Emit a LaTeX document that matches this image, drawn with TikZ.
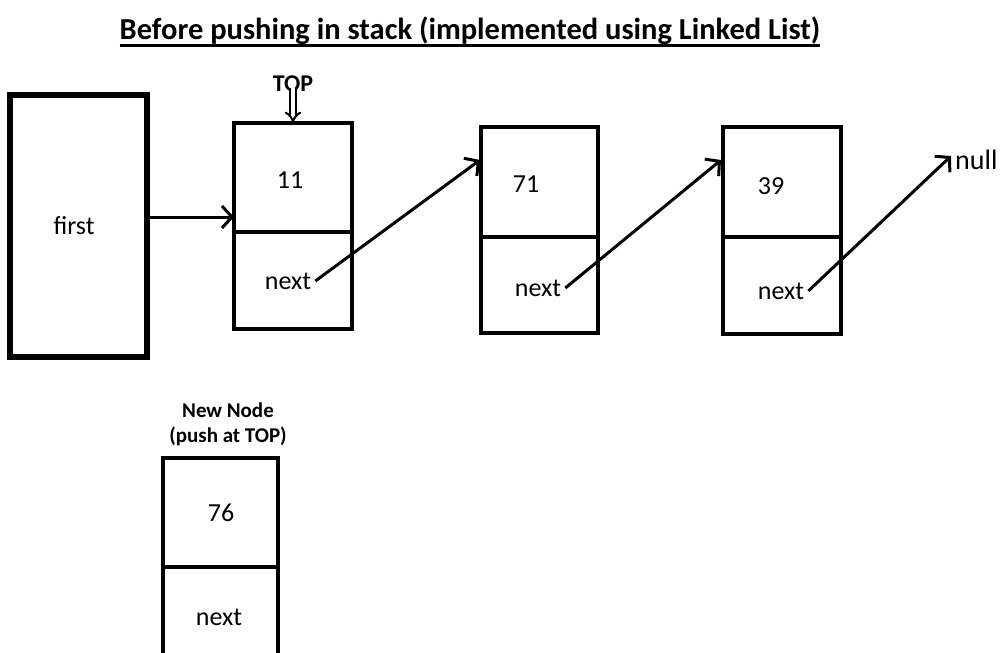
\documentclass[tikz,border=0pt]{standalone}
\usepackage{fontspec}
\setmainfont{Carlito}
\usetikzlibrary{arrows.meta}
\begin{document}
\begin{tikzpicture}[x=1pt,y=-1pt,
  cell/.style={draw, line width=4pt, inner sep=0pt, outer sep=0pt, anchor=north west},
  lbl/.style={font=\fontsize{26}{30}\selectfont, inner sep=1pt},
  boldlbl/.style={font=\bfseries\fontsize{21}{25}\selectfont, inner sep=0pt, align=center},
  arr/.style={line width=3pt, -{Straight Barb[length=10pt,width=22pt,line width=3pt]}}]
\useasboundingbox (0,0) rectangle (1004,653);
% title
\node[font=\bfseries\fontsize{30.5}{34}\selectfont, inner sep=0pt] (title) at (470,31) {Before pushing in stack (implemented using Linked List)};
\draw[line width=2.5pt] ([yshift=-6pt]title.base west) -- ([yshift=-6pt]title.base east);
% first
\node[cell, line width=5.5pt, minimum width=137pt, minimum height=262pt] (first) at (10,95) {};
\node[lbl] (firsttxt) at (74,226) {first};
% node 11
\node[cell, minimum width=118pt, minimum height=109pt] (a1) at (234,123) {};
\node[cell, minimum width=118pt, minimum height=97pt] (b1) at (234,232) {};
\node[lbl] (v1) at (290,180) {11};
\node[lbl] (n1) at (288,281) {next};
% node 71
\node[cell, minimum width=117pt, minimum height=110pt] (a2) at (481,127) {};
\node[cell, minimum width=117pt, minimum height=96pt] (b2) at (481,237) {};
\node[lbl] (v2) at (526,184) {71};
\node[lbl] (n2) at (538,288) {next};
% node 39
\node[cell, minimum width=118pt, minimum height=110pt] (a3) at (723,127) {};
\node[cell, minimum width=118pt, minimum height=97pt] (b3) at (723,237) {};
\node[lbl] (v3) at (771,186) {39};
\node[lbl] (n3) at (781,291) {next};
% null
\node[font=\fontsize{28}{32}\selectfont, inner sep=1pt, anchor=west] (null) at (954,160) {null};
% TOP
\node[font=\bfseries\fontsize{24}{26}\selectfont, inner sep=0pt] (top) at (293,84) {TOP};
\draw[line width=2pt, double distance=3.5pt, -{Implies}] ([yshift=4pt]top.south) -- (top.south |- a1.north);
% new node
\node[boldlbl] (newlbl) at (228,424) {New Node\\(push at TOP)};
\node[cell, minimum width=115pt, minimum height=109pt] (a0) at (163,458) {};
\node[cell, minimum width=115pt, minimum height=110pt] (b0) at (163,567) {};
\node[lbl] (v0) at (221,513) {76};
\node[lbl] (n0) at (219,617) {next};
% connectors
\coordinate (first-out) at ([yshift=9pt]first.east);
\draw[arr] (first-out) -- (first-out -| a1.west);
\coordinate (in2) at (480,160);
\coordinate (in3) at (721,160);
\draw[arr] ([xshift=3pt]n1.east) -- (in2);
\draw[arr] ([xshift=3pt]n2.east) -- (in3);
\draw[arr] ([xshift=3pt]n3.east) -- ([xshift=-3pt,yshift=4pt]null.west);
\end{tikzpicture}
\end{document}
